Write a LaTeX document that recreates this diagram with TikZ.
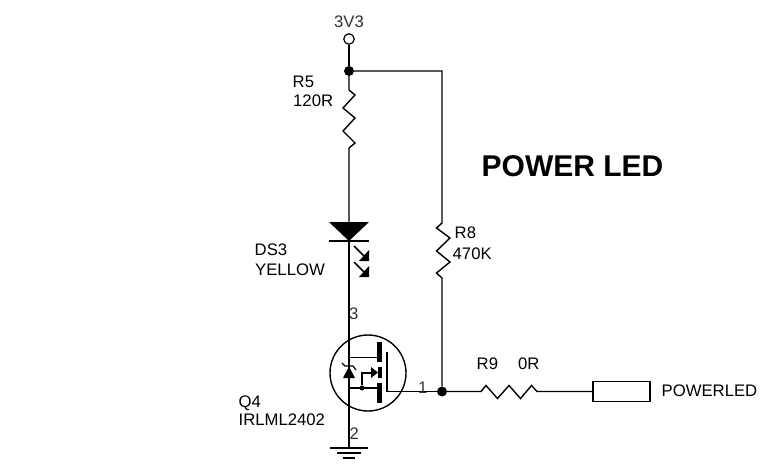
\documentclass[tikz,border=0pt]{standalone}
\usepackage{fontspec}
\setmainfont{Liberation Sans}
\begin{document}
\begin{tikzpicture}[x=1pt,y=-1pt,
  wire/.style={line width=1.4pt,line cap=butt},
  dotj/.style={circle,fill=black,inner sep=0pt,minimum size=10pt},
  smalldot/.style={circle,fill=black,inner sep=0pt,minimum size=5pt},
  lbl/.style={inner sep=0pt,font=\fontsize{16.7pt}{18pt}\selectfont,anchor=base west},
  num/.style={lbl,text=black!80}]
\useasboundingbox (0,0) rectangle (760,464);
\node[circle,draw,line width=1.2pt,fill=white,inner sep=0pt,minimum size=10.5pt] (vcc) at (349,39) {};
\node[dotj] (j1) at (349,71) {};
\node[dotj] (j2) at (442,391.5) {};
\coordinate (tr) at (442,71);
\coordinate (da) at (349,241);
\coordinate (gnd) at (349,448);
\draw[wire] (vcc) -- (j1);
\draw[wire] (j1) -- (349,90) -- (355,95) -- (343,108) -- (355,118) -- (343,131) -- (355,143) -- (349,148) -- (349,222);
\draw[wire] (j1) -- (tr) -- (442,223) -- (436.5,228) -- (450,238) -- (436.5,251) -- (450,262) -- (436.5,273) -- (442,278) -- (j2);
% LED
\fill (329,222) -- (369,222) -- (da) -- cycle;
\draw[line width=1.6pt] (329,241) -- (369,241);
\draw[wire] (da) -- (gnd);
\foreach \yy in {246,262}{
  \draw[line width=1.6pt] (354,\yy) -- (365,\yy+11);
  \fill (369,\yy+4) -- (369,\yy+15) -- (359,\yy+15) -- cycle;
}
% MOSFET
\node[circle,draw,line width=1.4pt,inner sep=0pt,minimum size=76pt] (q) at (368,373) {};
\fill (377,342) rectangle (382,362);
\fill (377,383) rectangle (382,403);
\draw[wire] (349,357.5) -- (377,357.5);
\draw[wire] (349,388) -- (377,388);
\node[smalldot] (j3) at (362,388) {};
\draw[line width=1.1pt] (j3) -- (362,373) -- (371,373);
\fill (371,367) -- (378,372.5) -- (371,378) -- cycle;
\fill (378,367) rectangle (382,378);
\draw[wire] (387,352) -- (387,391.5) -- (j2);
% body zener
\fill (349,366.5) -- (343,378) -- (355,378) -- cycle;
\draw[line width=1.2pt] (342,363) -- (345,366) -- (353,366) -- (356,370);
% R9
\draw[wire] (j2) -- (481,391.5) -- (486,385.5) -- (497.5,398.5) -- (509,385.5) -- (520.5,398.5) -- (531.5,385.5) -- (537,391.5) -- (593,391.5);
% gnd
\draw[wire] (330,448) -- (368,448);
\draw[wire] (337,453) -- (361,453);
\draw[wire] (343,458) -- (355,458);
% port
\node[draw,line width=1.4pt,inner sep=0pt,minimum width=57pt,minimum height=20pt] (port) at (621.5,391.5) {};
% labels
\node[num] (t3) at (334,27) {3V3};
\node[lbl] (t4a) at (292.5,87) {R5};
\node[lbl] (t4b) at (293,106) {120R};
\node[lbl] (t5a) at (254.5,255) {DS3};
\node[lbl] (t5b) at (255,275) {YELLOW};
\node[lbl] (t6a) at (454.5,238) {R8};
\node[lbl] (t6b) at (452.5,259.5) {470K};
\node[lbl] (t7a) at (238.5,407) {Q4};
\node[lbl] (t7b) at (238.5,425) {IRLML2402};
\node[lbl] (t8) at (476.5,369) {R9};
\node[lbl] (t9) at (518,369) {0R};
\node[lbl] (t10) at (661.5,396) {POWERLED};
\node[inner sep=0pt,font=\bfseries\fontsize{30pt}{32pt}\selectfont,anchor=base west] (t11) at (481.5,176) {POWER LED};
\node[num] (t1) at (349,319) {3};
\node[num] (t2) at (418,393) {1};
\node[num] (t12) at (349.5,439) {2};
\end{tikzpicture}
\end{document}
